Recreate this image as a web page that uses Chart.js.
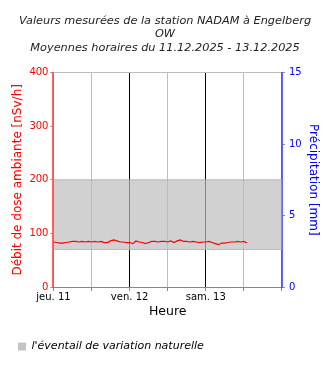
<!DOCTYPE html>
<html>
<head>
<meta charset="utf-8">
<script src="https://cdn.jsdelivr.net/npm/chart.js@4"></script>
<style>
  html, body { margin: 0; padding: 0; background: #fff; }
  #wrap { width: 330px; height: 370px; }
</style>
</head>
<body>
<div id="wrap"><canvas id="c" width="330" height="370"></canvas></div>
<script>
// hourly means from 11.12.2025 00:00
const doseValues = [
  84, 83, 82, 82, 83, 84, 85, 85, 84, 85, 84, 85, 84, 85, 84, 85,
  83, 83, 86, 88, 86, 84, 84, 83, 83, 81, 86, 84, 83, 81, 83, 85,
  85, 84, 85, 85, 84, 86, 83, 86, 88, 85, 85, 84, 85, 84, 83, 84,
  84, 85, 83, 81, 79, 82, 82, 83, 84, 84, 85, 84, 85, 82
];
const dayLabels = ["jeu. 11", "ven. 12", "sam. 13"];
const bandLow = 70;
const bandHigh = 200;
const doseTicks = [0, 100, 200, 300, 400];
const rainTicks = [0, 5, 10, 15];

const FONT = "'DejaVu Sans', sans-serif";
const doseData = doseValues.map((v, i) => ({ x: i, y: v }));
const lowData = [{ x: 0, y: bandLow }, { x: 72, y: bandLow }];
const highData = [{ x: 0, y: bandHigh }, { x: 72, y: bandHigh }];

new Chart(document.getElementById("c"), {
  type: "line",
  data: {
    datasets: [
      {
        label: "dose",
        data: doseData,
        borderColor: "#ff0000",
        borderWidth: 1.2,
        pointRadius: 0,
        fill: false,
        yAxisID: "y",
        order: 0
      },
      {
        label: "low",
        data: lowData,
        borderColor: "rgba(170,170,170,0.8)",
        borderWidth: 1,
        pointRadius: 0,
        fill: false,
        yAxisID: "y",
        order: 2
      },
      {
        label: "l'éventail de variation naturelle",
        data: highData,
        borderColor: "rgba(170,170,170,0.8)",
        backgroundColor: "rgba(190,190,190,0.7)",
        borderWidth: 1,
        pointRadius: 0,
        fill: "-1",
        yAxisID: "y",
        order: 1
      }
    ]
  },
  options: {
    responsive: false,
    animation: false,
    layout: { padding: { left: 8, right: 8, top: 0, bottom: 8 } },
    plugins: {
      title: {
        display: true,
        text: [
          "Valeurs mesurées de la station NADAM à Engelberg",
          "OW",
          "Moyennes horaires du 11.12.2025 - 13.12.2025"
        ],
        color: "#222",
        font: { family: FONT, size: 11.3, style: "italic", weight: "normal", lineHeight: 1.2 },
        padding: { top: 14, bottom: 18 }
      },
      legend: {
        position: "bottom",
        align: "start",
        labels: {
          boxWidth: 8,
          boxHeight: 8,
          color: "#222",
          font: { family: FONT, size: 11, style: "italic" },
          padding: 10,
          generateLabels: chart => [{
            text: "l'éventail de variation naturelle",
            fillStyle: "#c4c4c4",
            strokeStyle: "#c4c4c4",
            lineWidth: 0,
            datasetIndex: 2
          }]
        }
      },
      tooltip: { enabled: false }
    },
    scales: {
      x: {
        type: "linear",
        min: 0,
        max: 72,
        afterBuildTicks: axis => {
          axis.ticks = [0, 12, 24, 36, 48, 60, 72].map(v => ({ value: v }));
        },
        ticks: {
          color: "#000",
          font: { family: FONT, size: 10 },
          maxRotation: 0,
          autoSkip: false,
          padding: 0,
          callback: v => (v % 24 === 0 && v < 72) ? dayLabels[v / 24] : ""
        },
        grid: {
          color: ctx => (ctx.tick && ctx.tick.value % 24 === 0 && ctx.tick.value > 0 && ctx.tick.value < 72) ? "#000" : "#bdbdbd",
          tickColor: "#888",
          tickLength: 4
        },
        border: { color: "#888" },
        title: {
          display: true,
          text: "Heure",
          color: "#000",
          font: { family: FONT, size: 12.5 },
          padding: { top: 1, bottom: 12 }
        }
      },
      y: {
        position: "left",
        min: 0,
        max: 400,
        afterBuildTicks: axis => { axis.ticks = doseTicks.map(v => ({ value: v })); },
        ticks: {
          color: "#ff0000",
          font: { family: FONT, size: 10 },
          padding: 2
        },
        grid: {
          color: ctx => (ctx.tick && ctx.tick.value === 400) ? "#bdbdbd" : "transparent",
          tickColor: "#888",
          tickLength: 3
        },
        border: { color: "rgba(255,60,60,0.8)", width: 2 },
        title: {
          display: true,
          text: "Débit de dose ambiante [nSv/h]",
          color: "#ff0000",
          font: { family: FONT, size: 12 },
          padding: { top: 3, bottom: 2 }
        }
      },
      y2: {
        position: "right",
        min: 0,
        max: 15,
        afterBuildTicks: axis => { axis.ticks = rainTicks.map(v => ({ value: v })); },
        ticks: {
          color: "#0000ff",
          font: { family: FONT, size: 10 },
          padding: 4
        },
        grid: { drawOnChartArea: false, tickColor: "#888", tickLength: 3 },
        border: { color: "rgba(60,60,255,0.8)", width: 2 },
        title: {
          display: true,
          text: "Précipitation [mm]",
          color: "#0000ff",
          font: { family: FONT, size: 12 },
          padding: { top: 2, bottom: 0 }
        }
      }
    }
  }
});
</script>
</body>
</html>
